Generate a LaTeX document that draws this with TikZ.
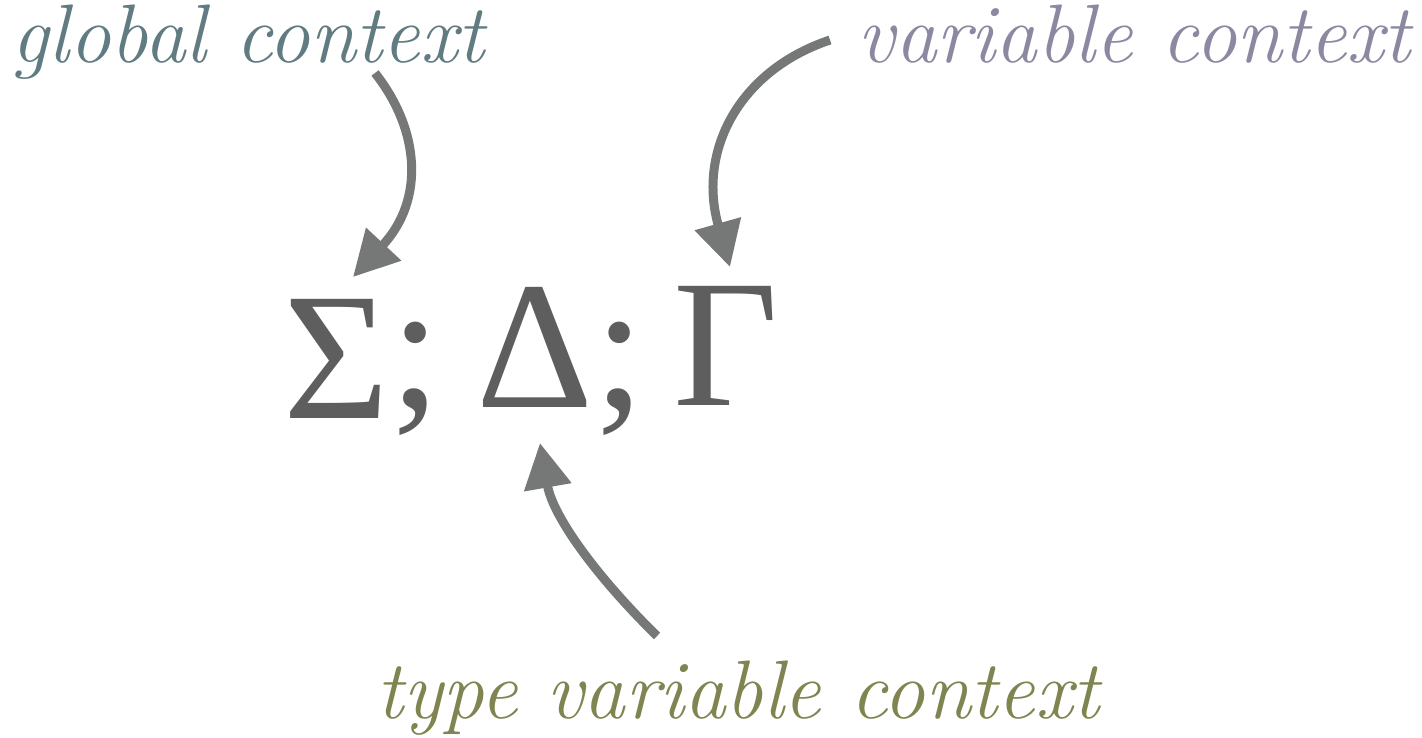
\documentclass[tikz,border=0pt]{standalone}
\usepackage{fontspec}
\newfontfamily\formfont{Liberation Serif}
\usetikzlibrary{arrows.meta}
\definecolor{globc}{HTML}{607B81}
\definecolor{varc}{HTML}{8B89A1}
\definecolor{tvarc}{HTML}{7F8450}
\definecolor{formc}{HTML}{5E5E5E}
\definecolor{arrc}{HTML}{767877}
\begin{document}
\begin{tikzpicture}[x=1pt,y=-1pt,
  lbl/.style={inner sep=0pt, font=\fontsize{83}{90}\selectfont\itshape},
  sym/.style={inner sep=0pt, anchor=base, text=formc, font=\formfont\fontsize{182}{190}\selectfont},
  conn/.style={line width=9pt, draw=arrc, -{Triangle[length=45pt,width=46pt]}}]
\useasboundingbox (0,0) rectangle (1422,738);
% labels
\node[lbl, anchor=base west, text=globc] (glob) at (11,63) {global context};
\node[lbl, anchor=base east, text=varc] (var) at (1411,63) {variable context};
\node[lbl, anchor=base west, text=tvarc] (tvar) at (376,718) {type variable context};
% formula
\node[sym] (sig) at (336,418) {Σ};
\node[sym] (semi1) at (416,407) {;};
\node[sym] (del) at (535,407) {Δ};
\node[sym] (semi2) at (620,407) {;};
\node[sym] (gam) at (726,405) {Γ};
% connector end points
\coordinate (a1s) at (375,73);
\coordinate (a1e) at (353,277);
\coordinate (a2s) at (830,40);
\coordinate (a2e) at (730,267);
\coordinate (a3s) at (657,636);
\coordinate (a3e) at (540,443);
\draw[conn] (a1s) .. controls (420,130) and (425,200) .. (a1e);
\draw[conn] (a2s) .. controls (740,70) and (697,150) .. (a2e);
\draw[conn] (a3s) .. controls (597,577) and (553,517) .. (a3e);
\end{tikzpicture}
\end{document}
